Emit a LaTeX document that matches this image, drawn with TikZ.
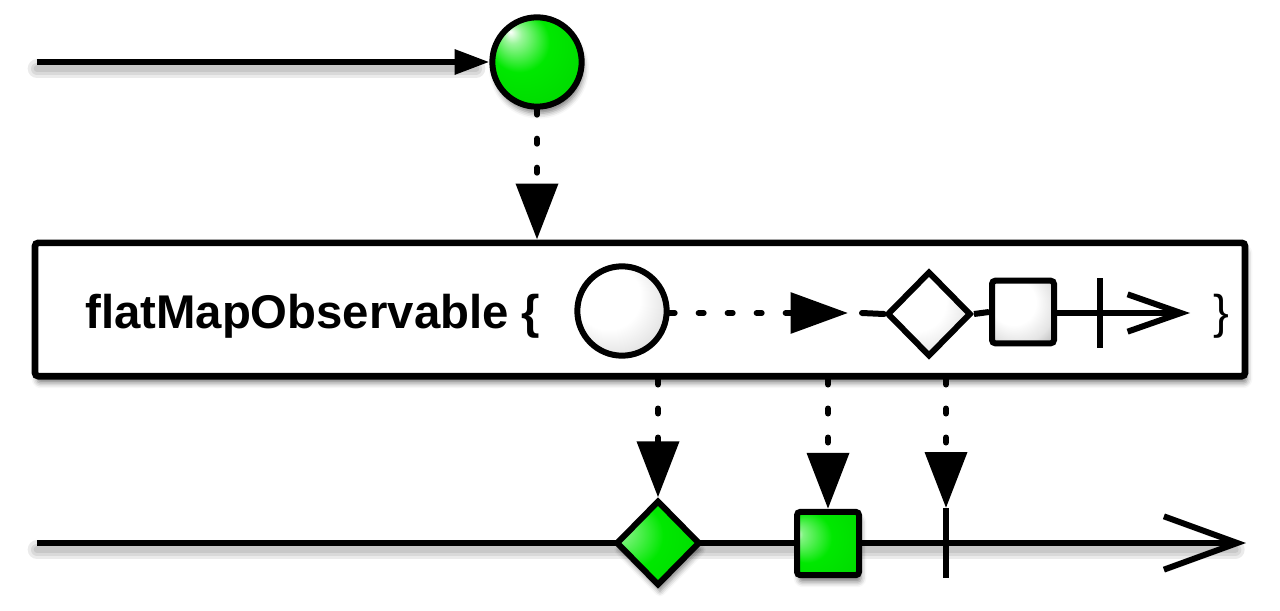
\documentclass[tikz,border=0pt]{standalone}
\usepackage{fontspec}
\setmainfont{Liberation Sans}
\usetikzlibrary{arrows.meta,shapes.geometric,shadows.blur}
\definecolor{mygreen}{RGB}{0,232,0}
\definecolor{gA}{RGB}{255,255,255}
\definecolor{gB}{RGB}{228,228,228}
\definecolor{gC}{RGB}{165,165,165}
\definecolor{gD}{RGB}{125,125,125}
\pgfdeclareradialshading{greenball}{\pgfpoint{-15bp}{17bp}}{color(0bp)=(white); color(5bp)=(mygreen!40!white); color(17bp)=(mygreen); color(36bp)=(mygreen!93!black); color(50bp)=(mygreen!75!black)}
\pgfdeclareradialshading{greenside}{\pgfpoint{-28bp}{8bp}}{color(0bp)=(white); color(5bp)=(mygreen!50!white); color(20bp)=(mygreen); color(42bp)=(mygreen!93!black); color(50bp)=(mygreen!80!black)}
\pgfdeclareradialshading{grayside}{\pgfpoint{-12bp}{12bp}}{color(0bp)=(gA); color(18bp)=(gA); color(30bp)=(gB); color(42bp)=(gC); color(50bp)=(gD)}
\begin{document}
\begin{tikzpicture}[x=0.75pt,y=-0.75pt,
  ln/.style={line width=4.5pt},
  lineshadow/.style={line cap=round, draw=black, opacity=0.08, line width=#1},
  dotline/.style={line width=4.5pt, line cap=round, dash pattern=on 3.75pt off 18pt},
  bighead/.style={-{Triangle[length=42pt,width=31pt]}},
  shad/.style={blur shadow={shadow xshift=1.5pt, shadow yshift=-5pt, shadow blur radius=4pt, shadow opacity=50}},
  ball/.style={circle, draw, line width=4.5pt, inner sep=0pt, minimum size=67pt, shade, shading=greenball, shad},
  graycirc/.style={circle, draw, line width=4.5pt, inner sep=0pt, minimum size=67pt, shade, shading=grayside},
  graydia/.style={diamond, draw, line width=4.5pt, inner sep=0pt, minimum width=63pt, minimum height=64pt, shade, shading=grayside},
  graysq/.style={rectangle, draw, line width=4.5pt, rounded corners=2.5pt, inner sep=0pt, minimum width=46.5pt, minimum height=47pt, shade, shading=grayside},
  greendia/.style={diamond, draw, line width=4.5pt, inner sep=0pt, minimum width=63pt, minimum height=64pt, shade, shading=greenside, shad},
  greensq/.style={rectangle, draw, line width=4.5pt, rounded corners=2.5pt, inner sep=0pt, minimum width=46.5pt, minimum height=47.5pt, shade, shading=greenside, shad},
  opbox/.style={rectangle, draw, fill=white, line width=5pt, rounded corners=2.5pt, inner sep=0pt, minimum width=907.5pt, minimum height=100pt, shad},
  bigtext/.style={font=\bfseries\fontsize{35.5pt}{40pt}\selectfont, inner sep=0pt},
  bracetext/.style={font=\fontsize{35.5pt}{40pt}\selectfont, inner sep=0pt}
]
\useasboundingbox (0,0) rectangle (1280,610);
% top line and ball
\coordinate (l0) at (37,62);
\node[ball] (src) at (537,62) {};
\foreach \w in {14pt,9pt,5pt}
  \draw[lineshadow=\w] ([yshift=-5pt]l0) -- ([yshift=-5pt,xshift=-10pt]src.west);
\draw[ln, -{Triangle[length=26pt,width=18pt]}] (l0) -- (src.west);
% operator box
\node[opbox] (box) at (640,309.5) {};
\draw[dotline, bighead] (src.south) -- (src.south |- box.north);
\node[bigtext, anchor=base west] (lbl) at (85,328) {flatMapObservable \{};
% inner sequence
\node[graycirc] (ic) at (622,311) {};
\coordinate (ia) at (848,313);
\draw[dotline, -{Triangle[length=43pt,width=30pt]}] (ic.east |- ia) -- (ia);
\node[graydia] (id) at (929,314) {};
\coordinate (ib) at (862,313);
\draw[ln, line cap=round] (ib) -- (id.west);
\node[graysq] (is) at (1023,312) {};
\draw[ln] (id.east) -- (is.west);
\coordinate (ie) at (1190,313);
\draw[ln, -{Straight Barb[length=40pt,width=28pt]}] (is.east |- ie) -- (ie);
\coordinate (it1) at (1100,278);
\coordinate (it2) at (1100,348);
\draw[ln] (it1) -- (it2);
\node[bracetext, anchor=base] (rb) at (1221,328) {\}};
% bottom line
\coordinate (b0) at (37,543);
\coordinate (b1) at (1246,543);
\foreach \w in {14pt,9pt,5pt}
  \draw[lineshadow=\w] ([yshift=-5pt]b0) -- ([yshift=-5pt,xshift=-8pt]b1);
\draw[ln, -{Straight Barb[length=55pt,width=40pt]}] (b0) -- (b1);
\node[greendia] (gd) at (658,543) {};
\node[greensq] (gs) at (828,543.5) {};
\coordinate (bt1) at (946,508);
\coordinate (bt2) at (946,578);
\draw[ln] (bt1) -- (bt2);
\draw[dotline, bighead] (gd.north |- box.south) -- (gd.north);
\draw[dotline, bighead] (gs.north |- box.south) -- (gs.north);
\draw[dotline, bighead] (bt1 |- box.south) -- (bt1);
\end{tikzpicture}
\end{document}
